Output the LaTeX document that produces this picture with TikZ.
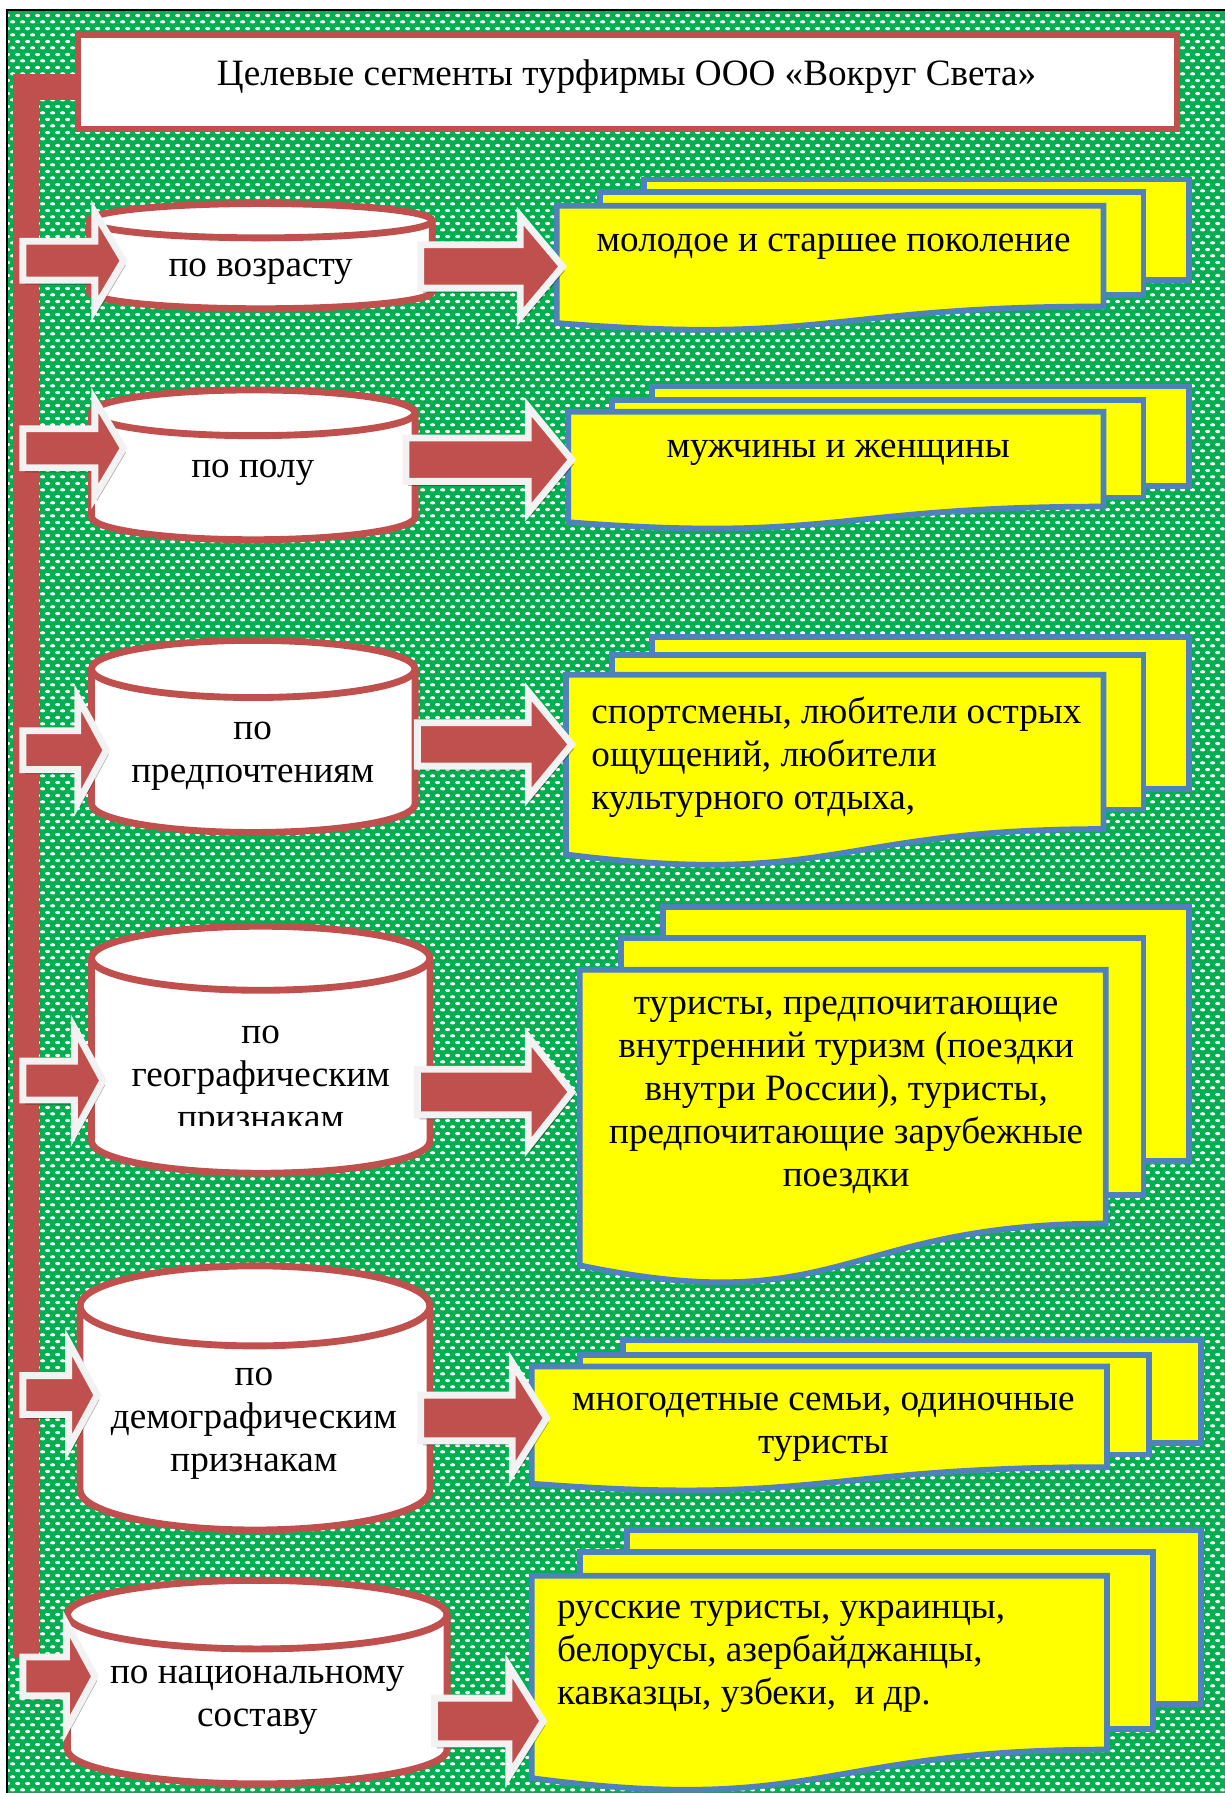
\documentclass[tikz,border=0pt]{standalone}
\usepackage{fontspec}
\setmainfont{Liberation Serif}
\usetikzlibrary{patterns.meta}
\definecolor{wgreen}{HTML}{00B050}
\definecolor{wred}{HTML}{C0504D}
\definecolor{wblue}{HTML}{4F81BD}
\definecolor{wyellow}{HTML}{FFFF00}
\definecolor{wwhite}{HTML}{F2F2F2}
\tikzdeclarepattern{
  name=wdots, type=uncolored,
  bounding box={(0pt,0pt) and (8.74pt,11.2pt)},
  tile size={(8.74pt,11.2pt)},
  code={
    \fill (2.3pt,2.8pt) ellipse (2.25pt and 1.45pt);
    \fill (6.67pt,8.4pt) ellipse (2.25pt and 1.45pt);
  }
}
\tikzset{
  txt/.style={font=\fontsize{32.5}{37.5}\selectfont, inner sep=0pt, align=center},
  cylstyle/.style={draw=wred, fill=white, line width=6pt},
  docstyle/.style={draw=wblue, fill=wyellow, line width=5pt, line join=miter},
  barrow/.style={draw=wwhite, fill=wred, line width=6pt, line join=miter},
  ashadow/.style={fill=black, opacity=0.3},
  bus/.style={draw=wred, line width=23pt, line join=miter},
  titlebox/.style={draw=wred, fill=white, line width=5.3pt, inner sep=0pt}
}
\newcommand\cylshape[5]{%
  \pgfmathsetmacro\cylrx{(#2-#1)/2}%
  \filldraw[cylstyle] (#1,#3+#5) -- (#1,#4-#5)
    arc[start angle=180, end angle=0, x radius=\cylrx, y radius=#5]
    -- (#2,#3+#5)
    arc[start angle=0, end angle=-180, x radius=\cylrx, y radius=#5] -- cycle;
  \draw[cylstyle, fill=none] (#1,#3+#5)
    arc[start angle=180, end angle=0, x radius=\cylrx, y radius=#5];
}
\newcommand\docfront[4]{%
  \pgfmathsetmacro\dh{(#4-#2)/0.802}%
  \pgfmathsetmacro\dxm{(#1+#3)/2}%
  \pgfmathsetmacro\dyc{#2+1.108*\dh}%
  \pgfmathsetmacro\dyl{#2+0.934*\dh}%
  \filldraw[docstyle] (#1,#2) -- (#3,#2) -- (#3,#4)
    .. controls (\dxm,#4) and (\dxm,\dyc) .. (#1,\dyl) -- cycle;
}
\newcommand\docback[4]{\filldraw[docstyle] (#1,#2) rectangle (#3,#4);}
\newcommand\blockarrow[6]{%
  \pgfmathsetmacro\ahx{#2-#6}%
  \begin{scope}[shift={(2,4)}]
  \fill[ashadow] (#1,#3-#4) -- (\ahx,#3-#4) -- (\ahx,#3-#5) -- (#2,#3)
    -- (\ahx,#3+#5) -- (\ahx,#3+#4) -- (#1,#3+#4) -- cycle;
  \end{scope}
  \filldraw[barrow] (#1,#3-#4) -- (\ahx,#3-#4) -- (\ahx,#3-#5) -- (#2,#3)
    -- (\ahx,#3+#5) -- (\ahx,#3+#4) -- (#1,#3+#4) -- cycle;
}
\begin{document}
\begin{tikzpicture}[x=1pt,y=-1pt]
\useasboundingbox (0,0) rectangle (1071,1568);
% background
\fill[white] (0,0) rectangle (1071,1568);
\fill[wgreen] (6,9) rectangle (1071,1568);
\fill[pattern=wdots, pattern color=white] (6,9) rectangle (1071,1568);
\draw[black, line width=1.6pt] (6,1568) -- (6,9) -- (1071,9);
% title
\node[titlebox, minimum width=961pt, minimum height=82pt] (title) at (548.5,72) {};
\node[txt] (titletext) at (548,67) {Целевые сегменты турфирмы ООО «Вокруг Света»};
% bus
\coordinate (busTop) at (23,76);
\coordinate (busEnd) at (23,1450);
\draw[bus] (title.west |- busTop) -- (busTop) -- (busEnd);

% ---------- row 1
\docback{563}{157}{1040}{245}
\docback{525}{168}{1000}{258}
\docfront{487}{180}{965}{268}
\node[txt] (d1) at (729,216) {молодое и старшее поколение};
\cylshape{78}{378}{178}{270}{15}
\node[txt] (c1) at (228,238) {по возрасту};
\blockarrow{368}{492}{233}{19}{44}{37}
\blockarrow{20}{108}{228}{17}{42}{25}

% ---------- row 2
\docback{570}{338}{1040}{425}
\docback{535}{350}{1000}{435}
\docfront{497}{360}{965}{443}
\node[txt] (d2) at (733,396) {мужчины и женщины};
\cylshape{80}{363}{341}{472}{20}
\node[txt] (c2) at (221,413) {по полу};
\blockarrow{355}{500}{402}{19}{46}{38}
\blockarrow{20}{108}{392}{17}{42}{25}

% ---------- row 3
\docback{570}{557}{1040}{690}
\docback{535}{573}{1000}{708}
\docfront{495}{590}{965}{725}
\node[txt, anchor=west, align=left] (d3) at (517,662) {спортсмены, любители острых\\ощущений, любители\\культурного отдыха,};
\cylshape{80}{363}{560}{728}{25}
\node[txt] (c3) at (221,661) {по\\предпочтениям};
\blockarrow{365}{500}{651}{19}{46}{38}
\blockarrow{20}{93}{656}{17}{46}{25}

% ---------- row 4
\docback{580}{793}{1040}{1015}
\docback{543}{820}{1000}{1045}
\docfront{507}{848}{967}{1070}
\node[txt] (d4) at (740,958) {туристы, предпочитающие\\внутренний туризм (поездки\\внутри России), туристы,\\предпочитающие зарубежные\\поездки};
\cylshape{80}{376}{810}{1026}{28}
\begin{scope}
\clip (0,0) rectangle (1071,984);
\node[txt] (c4) at (228,946) {по\\географическим\\признакам};
\end{scope}
\blockarrow{365}{500}{955}{20}{48}{38}
\blockarrow{20}{90}{945}{17}{46}{25}

% ---------- row 5
\docback{545}{1172}{1050}{1262}
\docback{507}{1185}{1005}{1272}
\docfront{465}{1195}{968}{1283}
\node[txt] (d5) at (720,1248) {многодетные семьи, одиночные\\туристы};
\cylshape{70}{376}{1107}{1338}{35}
\node[txt] (c5) at (222,1245) {по\\демографическим\\признакам};
\blockarrow{368}{478}{1240}{20}{48}{30}
\blockarrow{20}{85}{1220}{17}{46}{25}

% ---------- row 6
\docback{548}{1338}{1050}{1490}
\docback{507}{1357}{1008}{1512}
\docfront{465}{1378}{968}{1530}
\node[txt, anchor=west, align=left] (d6) at (487,1449) {русские туристы, украинцы,\\белорусы, азербайджанцы,\\кавказцы, узбеки,\ \ и др.};
\cylshape{59}{391}{1382}{1560}{30}
\node[txt] (c6) at (225,1487) {по национальному\\составу};
\blockarrow{380}{475}{1505}{20}{48}{30}
\blockarrow{20}{83}{1466}{17}{46}{25}
\end{tikzpicture}
\end{document}
